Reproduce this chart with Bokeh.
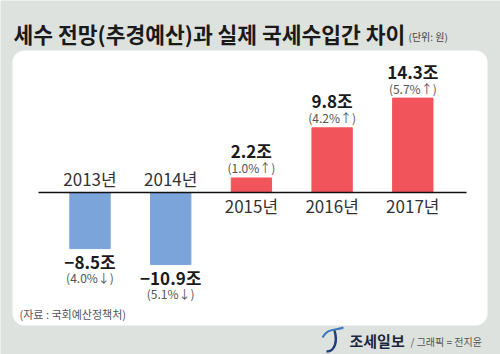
from bokeh.plotting import figure
from bokeh.models import BoxAnnotation, ColumnDataSource, Range1d
from bokeh.core.properties import value
from bokeh.embed import file_html
from bokeh.resources import INLINE

# ---- data ----
years = ["2013년", "2014년", "2015년", "2016년", "2017년"]
amounts = [-8.5, -10.9, 2.2, 9.8, 14.3]          # 조 원
value_labels = ["−8.5조", "−10.9조", "2.2조", "9.8조", "14.3조"]
pct_labels = ["(4.0%↓)", "(5.1%↓)", "(1.0%↑)", "(4.2%↑)", "(5.7%↑)"]
title = "세수 전망(추경예산)과 실제 국세수입간 차이"
unit = "(단위: 원)"
source_note = "(자료 : 국회예산정책처)"
brand = "조세일보"
credit = "/ 그래픽 = 전지윤"

W, H = 500, 354
X0PX, XSTEP = 89.5, 80.7      # pixel of first category, pixels per category
BASEPX, YSCALE = 192.0, 6.6   # baseline pixel (from top), pixels per unit

def sx(px):
    return (px - X0PX) / XSTEP

def sy(py):
    return (BASEPX - py) / YSCALE

FONT = "Noto Sans CJK KR"
BLUE = "#7BA4DB"
RED = "#F2545B"
BG = "#DEE2DE"

p = figure(width=W, height=H, output_backend="svg", toolbar_location=None,
           x_range=Range1d(sx(0), sx(W)), y_range=Range1d(sy(H), sy(0)),
           min_border=0, background_fill_color=BG, border_fill_color=BG,
           outline_line_color=None)
p.axis.visible = False
p.grid.visible = False

# white panel
p.add_layout(BoxAnnotation(left=sx(12), right=sx(487), top=sy(50), bottom=sy(325),
                           fill_color="white", fill_alpha=1.0, line_color=None,
                           border_radius=12, level="underlay"))

idx = list(range(len(years)))
colors = [BLUE if a < 0 else RED for a in amounts]
src = ColumnDataSource(dict(x=idx, top=amounts, color=colors))
p.vbar(x="x", top="top", bottom=0, width=0.5, color="color", source=src)

# baseline
p.segment(x0=[sx(38)], y0=[0], x1=[sx(466)], y1=[0], line_color="#111111", line_width=1.5)

# year labels: above baseline for negative bars, below for positive
year_y = [sy(BASEPX - 14) if a < 0 else sy(BASEPX + 13) for a in amounts]
p.text(x=idx, y=year_y, text=years, text_font=value(FONT), text_font_size="17px",
       text_align="center", text_baseline="middle", text_color="#333333",
       text_font_style="normal")

# value + pct labels
val_y = []
pct_y = []
for a in amounts:
    if a >= 0:
        val_y.append(a + 27 / YSCALE)
        pct_y.append(a + 10 / YSCALE)
    else:
        val_y.append(a - 13 / YSCALE)
        pct_y.append(a - 29 / YSCALE)
p.text(x=idx, y=val_y, text=value_labels, text_font=value(FONT), text_font_size="17px",
       text_font_style="bold", text_align="center", text_baseline="middle",
       text_color="#1a1a1a")
p.text(x=idx, y=pct_y, text=pct_labels, text_font=value(FONT), text_font_size="12px",
       text_align="center", text_baseline="middle", text_color="#555555")

# title
p.text(x=[sx(13)], y=[sy(33)], text=[title], text_font=value(FONT), text_font_size="21.5px",
       text_font_style="bold", text_align="left", text_baseline="middle",
       text_color="#1a1a1a")
p.text(x=[sx(408)], y=[sy(36)], text=[unit], text_font=value(FONT), text_font_size="10px",
       text_align="left", text_baseline="middle", text_color="#444444")

# source
p.text(x=[sx(19)], y=[sy(313)], text=[source_note], text_font=value(FONT),
       text_font_size="11px", text_align="left", text_baseline="middle",
       text_color="#555555")

# footer brand
p.bezier(x0=[sx(322)], y0=[sy(337)], x1=[sx(343)], y1=[sy(327)],
         cx0=[sx(327)], cy0=[sy(327)], cx1=[sx(336)], cy1=[sy(330)],
         line_color="#3A78C2", line_width=2)
p.bezier(x0=[sx(334)], y0=[sy(330)], x1=[sx(326)], y1=[sy(351)],
         cx0=[sx(337)], cy0=[sy(340)], cx1=[sx(335)], cy1=[sy(351)],
         line_color="#1E3F7A", line_width=2.5)
p.text(x=[sx(349)], y=[sy(340)], text=[brand], text_font=value(FONT), text_font_size="15px",
       text_font_style="bold", text_align="left", text_baseline="middle",
       text_color="#1c2740")
p.text(x=[sx(410)], y=[sy(341)], text=[credit], text_font=value(FONT), text_font_size="10px",
       text_align="left", text_baseline="middle", text_color="#555555")

open("out.html", "w").write(file_html(p, INLINE))
